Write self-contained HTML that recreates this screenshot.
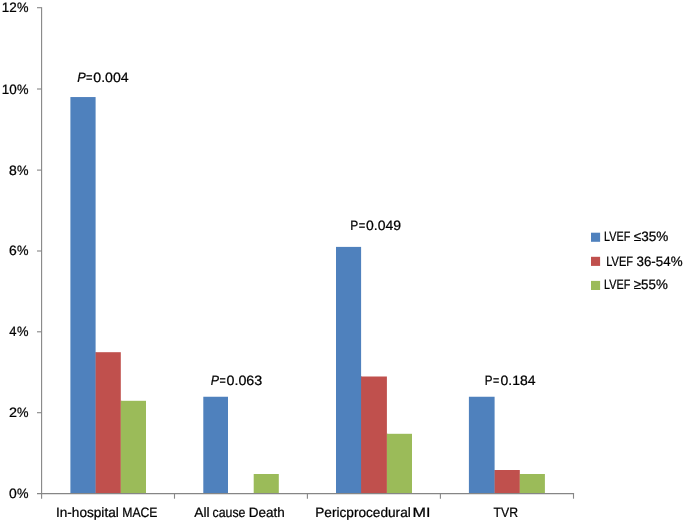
<!DOCTYPE html>
<html><head><meta charset="utf-8"><title>Chart</title>
<style>html,body{margin:0;padding:0;background:#fff}svg{display:block}text{text-rendering:geometricPrecision;font-family:"Liberation Sans",Arial,sans-serif;font-size:13.6px;fill:#000;stroke:#000;stroke-width:0.24px}</style></head>
<body>
<svg width="685" height="523" viewBox="0 0 685 523">
<rect width="685" height="523" fill="#fff"/>
<rect x="70.40" y="97.05" width="25.20" height="396.55" fill="#4F81BD"/>
<rect x="95.40" y="352.20" width="1" height="141.40" fill="#4F81BD"/>
<rect x="95.60" y="352.20" width="25.20" height="141.40" fill="#C0504D"/>
<rect x="120.60" y="400.80" width="1" height="92.80" fill="#C0504D"/>
<rect x="120.80" y="400.80" width="25.20" height="92.80" fill="#9BBB59"/>
<rect x="203.30" y="396.75" width="24.70" height="96.85" fill="#4F81BD"/>
<rect x="253.70" y="474.00" width="25.10" height="19.60" fill="#9BBB59"/>
<rect x="336.00" y="246.90" width="25.10" height="246.70" fill="#4F81BD"/>
<rect x="360.90" y="376.50" width="1" height="117.10" fill="#4F81BD"/>
<rect x="361.10" y="376.50" width="25.80" height="117.10" fill="#C0504D"/>
<rect x="386.70" y="433.80" width="1" height="59.80" fill="#C0504D"/>
<rect x="386.90" y="433.80" width="25.10" height="59.80" fill="#9BBB59"/>
<rect x="468.90" y="396.75" width="25.70" height="96.85" fill="#4F81BD"/>
<rect x="494.40" y="470.00" width="1" height="23.60" fill="#4F81BD"/>
<rect x="494.60" y="470.00" width="25.20" height="23.60" fill="#C0504D"/>
<rect x="519.60" y="474.00" width="1" height="19.60" fill="#C0504D"/>
<rect x="519.80" y="474.00" width="25.10" height="19.60" fill="#9BBB59"/>
<g stroke="#868686" stroke-width="1.1" fill="none">
<path d="M41.6 7.2 V498.7"/>
<path d="M37 493.6 H574.1"/>
<path d="M37 7.7 H41.6"/>
<path d="M37 89.0 H41.6"/>
<path d="M37 170.1 H41.6"/>
<path d="M37 251.0 H41.6"/>
<path d="M37 331.8 H41.6"/>
<path d="M37 412.7 H41.6"/>
<path d="M174.5 493.6 V498.7"/>
<path d="M307.4 493.6 V498.7"/>
<path d="M440.4 493.6 V498.7"/>
<path d="M573.5 493.6 V498.7"/>
</g>
<rect x="591" y="232.7" width="9.1" height="9.1" fill="#4F81BD"/>
<rect x="591" y="256.8" width="9.1" height="9.1" fill="#C0504D"/>
<rect x="591" y="280.9" width="9.1" height="9.1" fill="#9BBB59"/>
<text y="12"><tspan x="1.75" textLength="15.00" lengthAdjust="spacingAndGlyphs">12</tspan><tspan x="17.00" textLength="11.50" lengthAdjust="spacingAndGlyphs">%</tspan></text>
<text y="94"><tspan x="1.75" textLength="15.00" lengthAdjust="spacingAndGlyphs">10</tspan><tspan x="17.00" textLength="11.50" lengthAdjust="spacingAndGlyphs">%</tspan></text>
<text y="175"><tspan x="9.00" textLength="7.75" lengthAdjust="spacingAndGlyphs">8</tspan><tspan x="17.00" textLength="11.50" lengthAdjust="spacingAndGlyphs">%</tspan></text>
<text y="255"><tspan x="9.00" textLength="7.75" lengthAdjust="spacingAndGlyphs">6</tspan><tspan x="17.00" textLength="11.50" lengthAdjust="spacingAndGlyphs">%</tspan></text>
<text y="336"><tspan x="9.25" textLength="7.25" lengthAdjust="spacingAndGlyphs">4</tspan><tspan x="17.00" textLength="11.50" lengthAdjust="spacingAndGlyphs">%</tspan></text>
<text y="417"><tspan x="9.00" textLength="8.00" lengthAdjust="spacingAndGlyphs">2</tspan><tspan x="17.00" textLength="11.50" lengthAdjust="spacingAndGlyphs">%</tspan></text>
<text y="498"><tspan x="9.00" textLength="7.75" lengthAdjust="spacingAndGlyphs">0</tspan><tspan x="17.00" textLength="11.50" lengthAdjust="spacingAndGlyphs">%</tspan></text>
<text y="517"><tspan x="56.00" textLength="62.75" lengthAdjust="spacingAndGlyphs">In-hospital</tspan> <tspan x="122.25" textLength="35.25" lengthAdjust="spacingAndGlyphs">MACE</tspan></text>
<text y="517"><tspan x="194.25" textLength="15.25" lengthAdjust="spacingAndGlyphs">All</tspan> <tspan x="212.50" textLength="33.00" lengthAdjust="spacingAndGlyphs">cause</tspan> <tspan x="248.75" textLength="36.00" lengthAdjust="spacingAndGlyphs">Death</tspan></text>
<text y="517"><tspan x="315.25" textLength="95.50" lengthAdjust="spacingAndGlyphs">Pericprocedural</tspan> <tspan x="412.50" textLength="18.00" lengthAdjust="spacingAndGlyphs">MI</tspan></text>
<text y="517"><tspan x="493.50" textLength="24.50" lengthAdjust="spacingAndGlyphs">TVR</tspan></text>
<text y="82"><tspan x="77.25" textLength="8.50" lengthAdjust="spacingAndGlyphs" font-style="italic">P</tspan><tspan x="86.00" textLength="6.50" lengthAdjust="spacingAndGlyphs">=</tspan><tspan x="93.25" textLength="35.50" lengthAdjust="spacingAndGlyphs">0.004</tspan></text>
<text y="385"><tspan x="210.75" textLength="8.25" lengthAdjust="spacingAndGlyphs" font-style="italic">P</tspan><tspan x="219.50" textLength="6.25" lengthAdjust="spacingAndGlyphs">=</tspan><tspan x="226.50" textLength="35.75" lengthAdjust="spacingAndGlyphs">0.063</tspan></text>
<text y="230"><tspan x="350.25" textLength="8.00" lengthAdjust="spacingAndGlyphs">P</tspan><tspan x="358.75" textLength="6.50" lengthAdjust="spacingAndGlyphs">=</tspan><tspan x="366.00" textLength="35.00" lengthAdjust="spacingAndGlyphs">0.049</tspan></text>
<text y="385"><tspan x="484.75" textLength="7.75" lengthAdjust="spacingAndGlyphs">P</tspan><tspan x="493.00" textLength="6.25" lengthAdjust="spacingAndGlyphs">=</tspan><tspan x="500.50" textLength="35.00" lengthAdjust="spacingAndGlyphs">0.184</tspan></text>
<text y="241"><tspan x="604.00" textLength="26.25" lengthAdjust="spacingAndGlyphs">LVEF</tspan> <tspan x="633.75" textLength="34.50" lengthAdjust="spacingAndGlyphs">≤35%</tspan></text>
<text y="266"><tspan x="606.25" textLength="26.75" lengthAdjust="spacingAndGlyphs">LVEF</tspan> <tspan x="636.50" textLength="46.00" lengthAdjust="spacingAndGlyphs">36-54%</tspan></text>
<text y="289"><tspan x="604.00" textLength="26.25" lengthAdjust="spacingAndGlyphs">LVEF</tspan> <tspan x="633.75" textLength="34.00" lengthAdjust="spacingAndGlyphs">≥55%</tspan></text>
</svg>
</body></html>
